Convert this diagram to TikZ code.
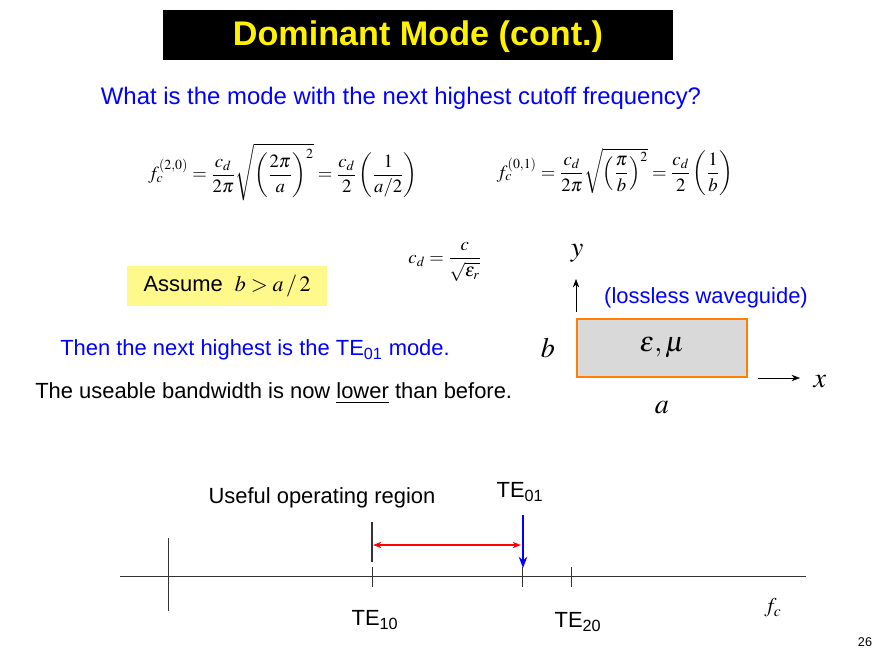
\documentclass[tikz,border=0pt]{standalone}
\usepackage{mathptmx}
\usepackage{amsmath}
\usepackage{fontspec}
\setmainfont{Liberation Sans}
\usetikzlibrary{arrows.meta}
\usetikzlibrary{positioning}

\tikzset{
  txt/.style={font=\fontsize{15.6}{18}\selectfont, inner sep=0pt},
  eqn/.style={font=\fontsize{13.3}{15}\selectfont, inner sep=0pt},
  tick/.style={draw=black!80, line width=0.7pt},
}

\begin{document}
\begin{tikzpicture}[x=0.025cm, y=-0.025cm]
    \useasboundingbox (0,0) rectangle (880,660);

    \fill[black] (163,10) rectangle (673,60);
    \node (title) at (418,37) [font=\fontsize{24.3}{26}\selectfont\bfseries, text=yellow] {Dominant Mode (cont.)};

    \node (quest) at (401,98) [txt, font=\fontsize{17}{19}\selectfont, text=blue] {What is the mode with the next highest cutoff frequency?};

    \node (eq20) at (283,172) [eqn] {$f_c^{(2,0)}=\dfrac{c_d}{2\pi}\sqrt{\left(\dfrac{2\pi}{a}\right)^{2}}=\dfrac{c_d}{2}\left(\dfrac{1}{a/2}\right)$};
    \node (eq01) at (615,172) [eqn] {$f_c^{(0,1)}=\dfrac{c_d}{2\pi}\sqrt{\left(\dfrac{\pi}{b}\right)^{2}}=\dfrac{c_d}{2}\left(\dfrac{1}{b}\right)$};
    \node (cd) at (445,262) [eqn] {$c_d=\dfrac{c}{\sqrt{\varepsilon_r}}$};

    \node (assume) at (227,286) [txt, fill=yellow!45, minimum width=5cm, minimum height=1cm] {Assume \ $b > a\,/\,2$};

    \node (then) at (60,350) [txt, text=blue, anchor=west] {Then the next highest is the TE$_{\textrm{01}}$ mode.};
    \node (useable) at (35,393) [txt, anchor=west] {The useable bandwidth is now \underline{lower} than before.};

    % waveguide cross section
    \node (guide) at (662,348) [draw=orange, line width=2pt, fill=black!15, minimum width=4.25cm, minimum height=1.45cm, font=\fontsize{20}{22}\selectfont] {$\varepsilon,\mu$};
    \node (b) at (548,348) [font=\fontsize{20}{22}\selectfont] {$b$};
    \node (a) at (662,408) [font=\fontsize{20}{22}\selectfont] {$a$};
    \coordinate (x0) at (758,378);
    \coordinate (x1) at (800,378);
    \coordinate (y0) at (576,312);
    \coordinate (y1) at (576,279);
    \draw [-{Stealth[length=6pt]}] (x0) -- (x1);
    \draw [-{Stealth[length=6pt]}] (y0) -- (y1);
    \node (xl) at (820,382) [font=\fontsize{20}{22}\selectfont] {$x$};
    \node (yl) at (577,253) [font=\fontsize{20}{22}\selectfont] {$y$};
    \node (lossless) at (706,298) [txt, text=blue] {(lossless waveguide)};

    % frequency axis
    \coordinate (ax0) at (120,576);
    \coordinate (ax1) at (806,576);
    \draw [tick] (ax0) -- (ax1);
    \draw [tick] (168,538) -- (168,611);
    \foreach \xt in {372,522,571}
      \draw [tick] (\xt,567) -- (\xt,587);
    \draw [line width=1pt, black!80] (372,522) -- (372,562);
    \coordinate (reg0) at (373,545);
    \coordinate (reg1) at (521,545);
    \draw [red, line width=1.2pt, {Stealth[length=6pt]}-{Stealth[length=6pt]}] (reg0) -- (reg1);
    \coordinate (te0) at (523,515);
    \coordinate (te1) at (523,568);
    \draw [blue, line width=2pt, -{Stealth[length=8pt]}] (te0) -- (te1);

    \node (useful) at (322,498) [txt] {Useful operating region};
    \node (te01) at (520,492) [txt] {TE$_{\textrm{01}}$};
    \node (te10) at (375,620) [txt] {TE$_{\textrm{10}}$};
    \node (te20) at (578,622) [txt] {TE$_{\textrm{20}}$};
    \node (fc) at (773,608) [eqn, font=\fontsize{15}{17}\selectfont] {$f_c$};
    \node (page) at (865,642) [font=\fontsize{9}{10}\selectfont] {26};
\end{tikzpicture}
\end{document}
